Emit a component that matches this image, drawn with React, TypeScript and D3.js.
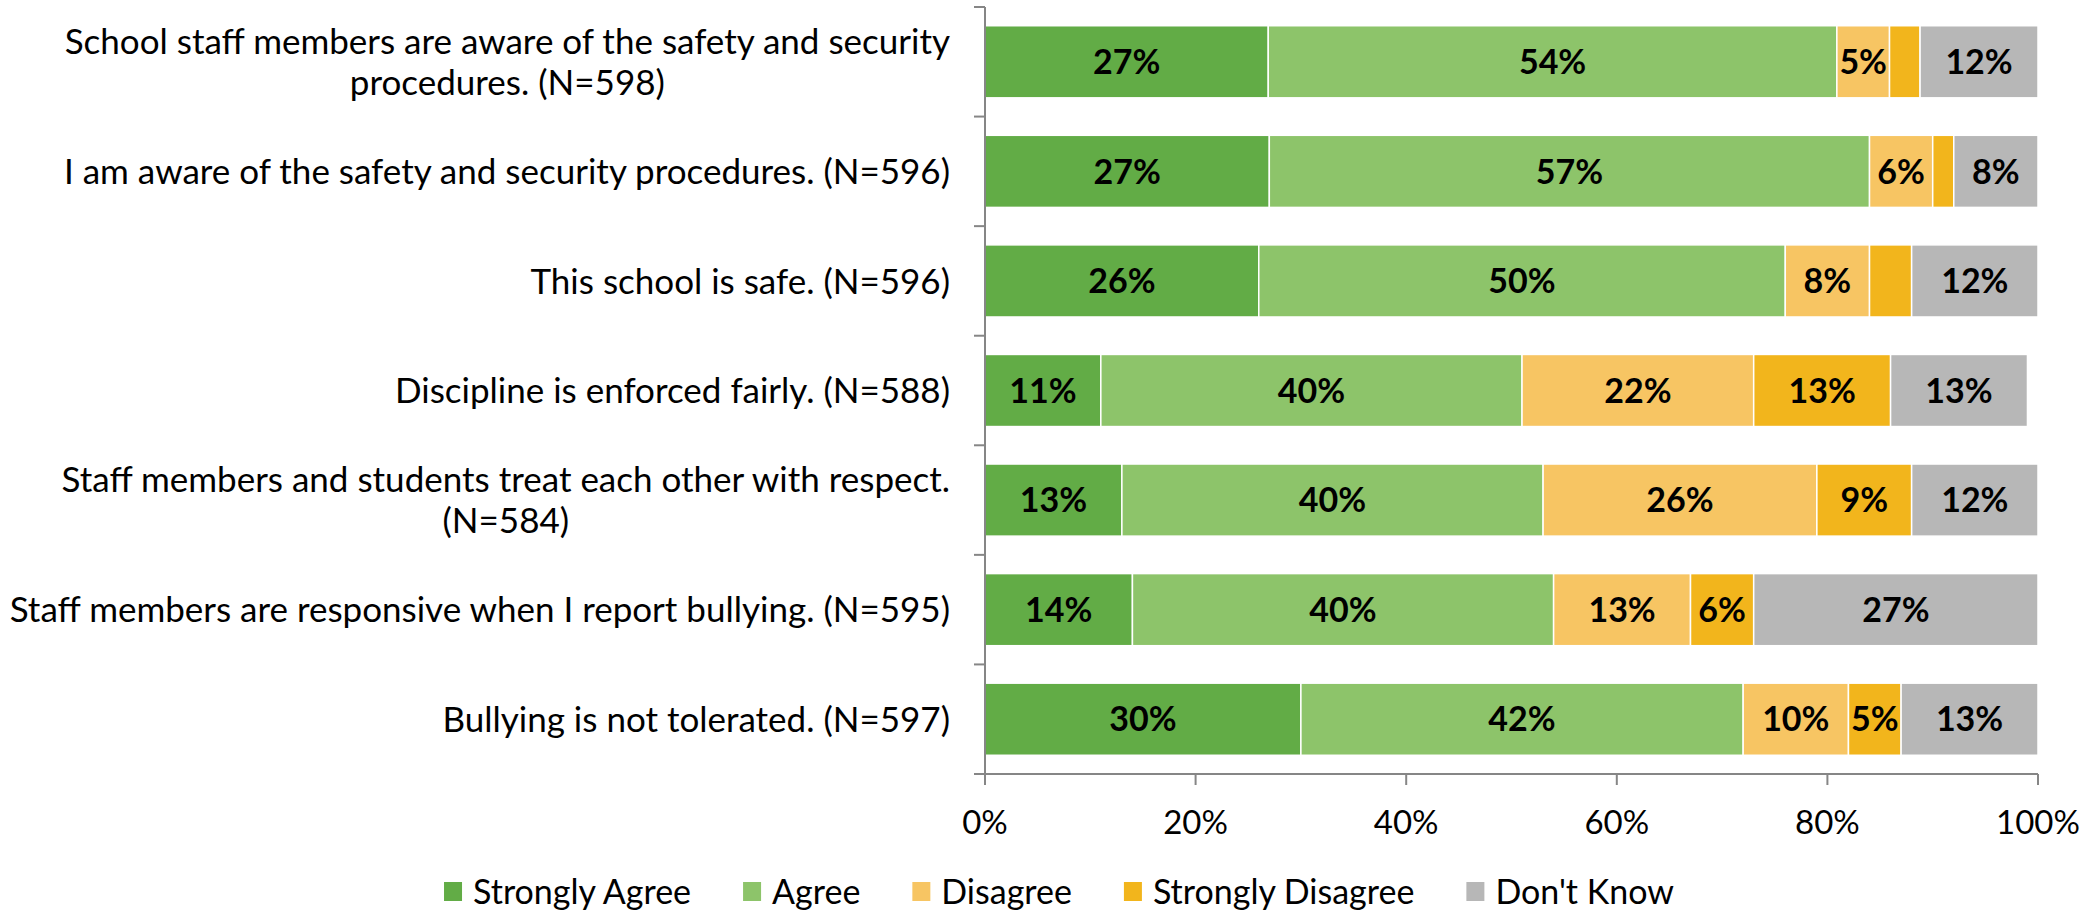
import { useEffect, useRef } from "react"
import * as d3 from "d3"

// chart data (percent of respondents)
const categories = [
  "School staff members are aware of the safety and security\nprocedures. (N=598)",
  "I am aware of the safety and security procedures. (N=596)",
  "This school is safe. (N=596)",
  "Discipline is enforced fairly. (N=588)",
  "Staff members and students treat each other with respect.\n(N=584)",
  "Staff members are responsive when I report bullying. (N=595)",
  "Bullying is not tolerated. (N=597)",
]
const seriesNames = ["Strongly Agree", "Agree", "Disagree", "Strongly Disagree", "Don't Know"]
const stronglyAgree = [26.9, 27, 26, 11, 13, 14, 30]
const agree = [54, 57, 50, 40, 40, 40, 42]
const disagree = [5, 6, 8, 22, 26, 13, 10]
const stronglyDisagree = [2.9, 2, 4, 13, 9, 6, 5]
const dontKnow = [11.5, 8, 12, 13, 12, 27, 13]
const xTicks = [0, 20, 40, 60, 80, 100]
const colors = ["#62AC46", "#8DC46A", "#F7C563", "#F2B51C", "#B7B7B7"]

const W = 2097
const H = 910
const FONT = "Lato, 'Open Sans', sans-serif"

export default function App() {
  const svgRef = useRef<SVGSVGElement>(null)

  useEffect(() => {
    if (!svgRef.current) return
    const svg = d3.select(svgRef.current)
    svg.selectAll("*").remove()

    const left = 985
    const right = 2038
    const top = 7
    const bottom = 774

    const columns = [stronglyAgree, agree, disagree, stronglyDisagree, dontKnow]
    const rows = categories.map((c, i) => {
      const r: any = { cat: c }
      seriesNames.forEach((s, j) => (r[s] = columns[j][i]))
      return r
    })
    const stacked = d3.stack<any>().keys(seriesNames)(rows)

    const x = d3.scaleLinear().domain([0, 100]).range([left, right])
    const y = d3
      .scaleBand()
      .domain(categories)
      .range([top, bottom])
      .paddingInner(0.342)
      .paddingOuter(0.171)

    // bars
    stacked.forEach((layer, j) => {
      const g = svg.append("g")
      g.selectAll("rect")
        .data(layer)
        .enter()
        .append("rect")
        .attr("x", (d) => x(d[0]))
        .attr("y", (d) => y(d.data.cat) || 0)
        .attr("width", (d) => Math.min(x(d[1]), right) - x(d[0]))
        .attr("height", y.bandwidth())
        .attr("fill", colors[j])
        .attr("stroke", "#fff")
        .attr("stroke-width", 1.5)

      g.selectAll("text")
        .data(layer.filter((d) => d[1] - d[0] >= 5))
        .enter()
        .append("text")
        .attr("x", (d) => (x(d[0]) + Math.min(x(d[1]), right)) / 2)
        .attr("y", (d) => (y(d.data.cat) || 0) + y.bandwidth() / 2)
        .attr("dy", "0.36em")
        .attr("text-anchor", "middle")
        .attr("font-family", FONT)
        .attr("font-weight", "bold")
        .attr("font-size", 34)
        .attr("fill", "#000")
        .text((d) => `${Math.round(d[1] - d[0])}%`)
    })

    const axisColor = "#868686"
    // category axis
    svg
      .append("line")
      .attr("x1", left)
      .attr("x2", left)
      .attr("y1", top)
      .attr("y2", bottom)
      .attr("stroke", axisColor)
      .attr("stroke-width", 2)
    d3.range(categories.length + 1).forEach((i) => {
      const yy = top + i * y.step()
      svg
        .append("line")
        .attr("x1", left - 11)
        .attr("x2", left)
        .attr("y1", yy)
        .attr("y2", yy)
        .attr("stroke", axisColor)
        .attr("stroke-width", 2)
    })

    // value axis
    svg
      .append("line")
      .attr("x1", left)
      .attr("x2", right)
      .attr("y1", bottom)
      .attr("y2", bottom)
      .attr("stroke", axisColor)
      .attr("stroke-width", 2)
    xTicks.forEach((t) => {
      svg
        .append("line")
        .attr("x1", x(t))
        .attr("x2", x(t))
        .attr("y1", bottom)
        .attr("y2", bottom + 11)
        .attr("stroke", axisColor)
        .attr("stroke-width", 2)
      svg
        .append("text")
        .attr("x", x(t))
        .attr("y", 822)
        .attr("dy", "0.36em")
        .attr("text-anchor", "middle")
        .attr("font-family", FONT)
        .attr("font-size", 33)
        .attr("fill", "#000")
        .text(`${t}%`)
    })

    // category labels: lines centred on each other, block right-aligned
    const labelRight = 950
    const lineH = 41.5
    categories.forEach((c) => {
      const lines = c.split("\n")
      const cy = (y(c) || 0) + y.bandwidth() / 2
      const t = svg
        .append("text")
        .attr("font-family", FONT)
        .attr("font-size", 35)
        .attr("fill", "#000")
      const spans = lines.map((ln, k) =>
        t
          .append("tspan")
          .attr("y", cy + (k - (lines.length - 1) / 2) * lineH)
          .attr("dy", "0.36em")
          .text(ln)
      )
      const widths = spans.map((s) => (s.node() as SVGTSpanElement).getComputedTextLength())
      const maxW = Math.max(...widths)
      spans.forEach((s) => s.attr("x", labelRight - maxW / 2).attr("text-anchor", "middle"))
    })

    // legend
    const legend = svg.append("g")
    let cx = 0
    seriesNames.forEach((s, j) => {
      legend
        .append("rect")
        .attr("x", cx)
        .attr("y", 882)
        .attr("width", 18)
        .attr("height", 19)
        .attr("fill", colors[j])
      const txt = legend
        .append("text")
        .attr("x", cx + 29)
        .attr("y", 891.5)
        .attr("dy", "0.36em")
        .attr("font-family", FONT)
        .attr("font-size", 34)
        .attr("fill", "#000")
        .text(s)
      cx += 29 + (txt.node() as SVGTextElement).getComputedTextLength() + 52
    })
    const total = cx - 52
    legend.attr("transform", `translate(${1059 - total / 2},0)`)
  }, [])

  return (
    <svg
      ref={svgRef}
      width={W}
      height={H}
      style={{ position: "absolute", left: 0, top: 0, display: "block", background: "#fff" }}
    />
  )
}
